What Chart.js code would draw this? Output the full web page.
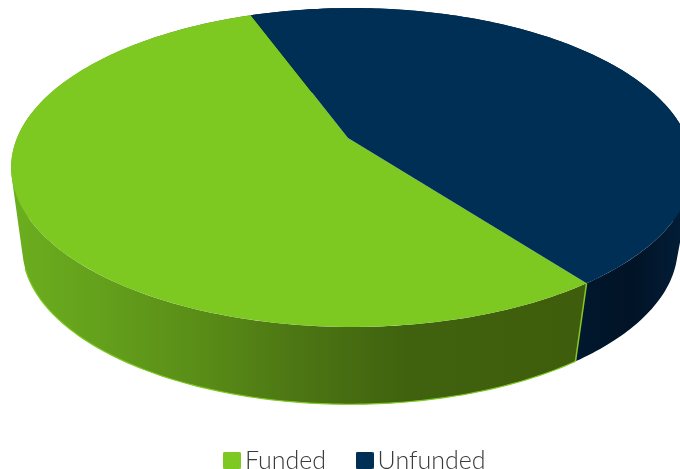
<!DOCTYPE html>
<html>
<head>
<meta charset="utf-8">
<style>
  html, body { margin: 0; padding: 0; background: #fff; overflow: hidden; height: 469px; }
  canvas { display: block; }
</style>
<script src="https://cdn.jsdelivr.net/npm/chart.js@4/dist/chart.umd.min.js"></script>
</head>
<body>
<canvas id="fundingChart" width="680" height="483"></canvas>
<script>
const segments = ['Funded', 'Unfunded'];
const shares = [54.4, 45.6];
const topColors = ['#7dc922', '#002f56'];

// perspective disc, p is the tilt strength
const p = 0.185;
const topRim = { cx: 352, cy: 138, rx: 335, ry: 154 };
const bottomRim = { cx: 350, cy: 219, rx: 322, ry: 151 };
const apex = { x: 348, y: 138 };

// wall shading from left to right, one set per slice
const wallStops = [
  [[0.03, '#6aad1e'], [0.15, '#64a01c'], [0.3, '#598c17'], [0.44, '#4c7513'], [0.6, '#40620f'], [0.87, '#3f5d0c']],
  [[0.85, '#01182e'], [0.93, '#011326'], [1, '#031d36']]
];

function project(rim, angle) {
  const u = Math.cos(angle), v = Math.sin(angle);
  const w = 1 - p * v;
  return { x: rim.cx + rim.rx * u / w, y: rim.cy + rim.ry * v / w };
}

function traceArc(ctx, rim, from, to, first) {
  const steps = 120;
  for (let i = 0; i <= steps; i++) {
    const pt = project(rim, from + (to - from) * i / steps);
    if (i === 0 && first) ctx.moveTo(pt.x, pt.y);
    else ctx.lineTo(pt.x, pt.y);
  }
}

// side wall as thin quads in one path, all wound the same way so
// the outline stays tangent between the two rims without seams
function drawWall(ctx, from, to, style) {
  const steps = 180;
  ctx.beginPath();
  for (let i = 0; i < steps; i++) {
    const a = from + (to - from) * i / steps;
    const b = from + (to - from) * (i + 1) / steps;
    let quad = [project(topRim, a), project(topRim, b), project(bottomRim, b), project(bottomRim, a)];
    let area = 0;
    quad.forEach((q, k) => {
      const n = quad[(k + 1) % 4];
      area += q.x * n.y - n.x * q.y;
    });
    if (area < 0) quad = quad.reverse();
    quad.forEach((q, k) => k === 0 ? ctx.moveTo(q.x, q.y) : ctx.lineTo(q.x, q.y));
    ctx.closePath();
  }
  ctx.fillStyle = style;
  ctx.fill();
}

const disc3d = {
  id: 'disc3d',
  // replaces the flat arcs, angles still come from the pie controller
  beforeDatasetDraw(chart, args) {
    const ctx = chart.ctx;
    const arcs = chart.getDatasetMeta(args.index).data;

    arcs.forEach((arc, i) => {
      const grad = ctx.createLinearGradient(0, 0, chart.width, 0);
      wallStops[i].forEach(s => grad.addColorStop(s[0], s[1]));
      drawWall(ctx, arc.startAngle, arc.endAngle, grad);
    });

    // thin light edge along the bottom of the green wall and its corner
    const start = arcs[0].startAngle;
    ctx.beginPath();
    traceArc(ctx, bottomRim, start, Math.PI * 0.9, true);
    ctx.strokeStyle = '#7dc922';
    ctx.lineWidth = 1.2;
    ctx.stroke();
    const a = project(topRim, start), b = project(bottomRim, start);
    ctx.beginPath();
    ctx.moveTo(a.x, a.y);
    ctx.lineTo(b.x, b.y);
    ctx.strokeStyle = '#86c62a';
    ctx.lineWidth = 1.5;
    ctx.stroke();

    arcs.forEach((arc, i) => {
      ctx.beginPath();
      ctx.moveTo(apex.x, apex.y);
      traceArc(ctx, topRim, arc.startAngle, arc.endAngle, false);
      ctx.closePath();
      ctx.fillStyle = topColors[i];
      ctx.fill();
    });
    return false;
  }
};

// square swatch for the legend, sits tight against the label
function swatch(color) {
  const c = document.createElement('canvas');
  c.width = 18;
  c.height = 18;
  const g = c.getContext('2d');
  g.fillStyle = color;
  g.beginPath();
  g.roundRect(0, 0, 18, 18, 2);
  g.fill();
  return c;
}
const swatches = topColors.map(swatch);

new Chart(document.getElementById('fundingChart'), {
  type: 'pie',
  data: {
    labels: segments,
    datasets: [{
      data: shares,
      backgroundColor: topColors,
      borderWidth: 0
    }]
  },
  plugins: [disc3d],
  options: {
    responsive: false,
    animation: false,
    rotation: 143.4,
    layout: { padding: { left: 37 } },
    plugins: {
      tooltip: { enabled: false },
      legend: {
        position: 'bottom',
        labels: {
          usePointStyle: true,
          pointStyleWidth: 1,
          padding: 38,
          color: '#3a3a3a',
          font: { family: 'Lato', size: 25, weight: '300' },
          generateLabels(chart) {
            const items = Chart.PieController.overrides.plugins.legend.labels.generateLabels(chart);
            return items.map((item, i) => ({ ...item, pointStyle: swatches[i] }));
          }
        }
      }
    }
  }
});
</script>
</body>
</html>
